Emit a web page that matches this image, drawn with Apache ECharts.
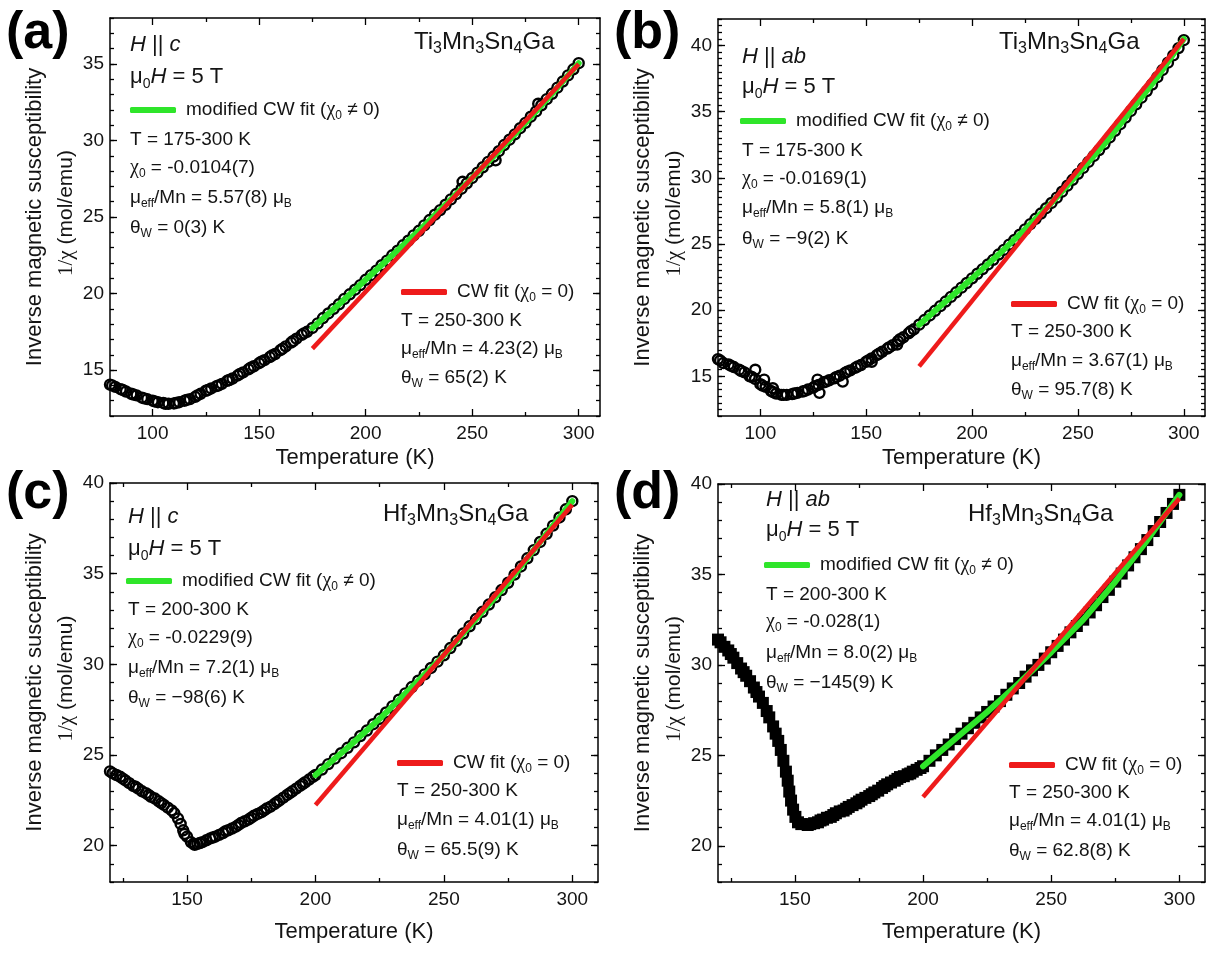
<!DOCTYPE html>
<html><head><meta charset="utf-8">
<script src="https://cdn.jsdelivr.net/npm/echarts@6/dist/echarts.min.js"></script>
<style>html,body{margin:0;padding:0;background:#fff}#c{width:1220px;height:953px}</style>
</head><body><div id="c"></div>
<script>
// ---------------- DATA ----------------
// Panel (a) Ti3Mn3Sn4Ga, H || c : [T (K), 1/chi (mol/emu)]
const dataA = [[80,14.05],[82.5,13.9],[85,13.75],[87.5,13.6],[90,13.45],[92.5,13.35],[95,13.2],[97.5,13.1],[100,13.0],[102.5,12.9],[105,12.85],[107.5,12.8],[110,12.82],[112.5,12.9],[115,13.0],[117.5,13.1],[120,13.25],[122.5,13.45],[125,13.65],[127.5,13.8],[130,13.95],[132.5,14.1],[135,14.3],[137.5,14.45],[140,14.65],[142.5,14.85],[145,15.05],[147.5,15.25],[150,15.45],[152.5,15.65],[155,15.85],[157.5,16.05],[160,16.3],[162.5,16.55],[165,16.8],[167.5,17.05],[170,17.3],[172.5,17.5],[175,17.75],[177.5,18.05],[180,18.4],[182.5,18.7],[185,19.0],[187.5,19.3],[190,19.65],[192.5,19.95],[195,20.25],[197.5,20.55],[200,20.9],[202.5,21.2],[205,21.5],[207.5,21.85],[210,22.15],[212.5,22.5],[215,22.8],[217.5,23.15],[220,23.45],[222.5,23.8],[225,24.1],[227.5,24.45],[230,24.8],[232.5,25.15],[235,25.45],[237.5,25.8],[240,26.15],[242.5,26.5],[245,26.85],[247.5,27.2],[250,27.55],[252.5,27.9],[255,28.25],[257.5,28.6],[260,28.95],[262.5,29.3],[265,29.7],[267.5,30.05],[270,30.4],[272.5,30.8],[275,31.15],[277.5,31.55],[280,31.9],[282.5,32.3],[285,32.7],[287.5,33.05],[290,33.45],[292.5,33.85],[295,34.25],[297.5,34.65],[300,35.05],
  [81,14.0],[86,13.7],[91,13.4],[96,13.15],[101,12.95],[106,12.8],[111,12.85],[116,13.05],[121,13.35],[126,13.7],[131,14.0],[136,14.35],[141,14.75],[146,15.15],[151,15.55],[156,15.95],[161,16.4],[166,16.9],[171,17.4],[245.5,27.3],[261,28.7],[281,32.4]];
const greenA = [[175,17.75],[187.5,19.3],[200,20.9],[212.5,22.5],[225,24.1],[237.5,25.8],[250,27.55],[262.5,29.3],[275,31.15],[287.5,33.05],[300,35.05]];
const redA = [[175,16.4],[300,35.0]];

// Panel (b) Ti3Mn3Sn4Ga, H || ab
const dataB = [[80,16.3],[82.5,16.0],[85,15.9],[87.5,15.7],[90,15.5],[92.5,15.3],[95,15.0],[97.5,14.8],[100,14.4],[102.5,14.2],[105,13.9],[107.5,13.7],[110,13.6],[112.5,13.6],[115,13.65],[117.5,13.75],[120,13.85],[122.5,14.0],[125,14.15],[127.5,14.35],[130,14.55],[132.5,14.7],[135,14.85],[137.5,15.05],[140,15.25],[142.5,15.45],[145,15.65],[147.5,15.85],[150,16.1],[152.5,16.35],[155,16.6],[157.5,16.85],[160,17.1],[162.5,17.35],[165,17.65],[167.5,17.95],[170,18.25],[172.5,18.55],[175,18.9],[177.5,19.25],[180,19.6],[182.5,19.95],[185,20.3],[187.5,20.65],[190,21.0],[192.5,21.35],[195,21.7],[197.5,22.05],[200,22.4],[202.5,22.75],[205,23.1],[207.5,23.45],[210,23.8],[212.5,24.2],[215,24.55],[217.5,24.95],[220,25.3],[222.5,25.7],[225,26.1],[227.5,26.5],[230,26.9],[232.5,27.3],[235,27.7],[237.5,28.1],[240,28.5],[242.5,28.95],[245,29.4],[247.5,29.85],[250,30.3],[252.5,30.75],[255,31.2],[257.5,31.65],[260,32.1],[262.5,32.55],[265,33.05],[267.5,33.55],[270,34.05],[272.5,34.55],[275,35.05],[277.5,35.55],[280,36.05],[282.5,36.55],[285,37.05],[287.5,37.6],[290,38.15],[292.5,38.7],[295,39.25],[297.5,39.8],[300,40.4],
  [97.6,15.5],[101.8,14.75],[105.9,14.1],[127,14.75],[127.9,13.75],[138.9,14.6],[152.6,16.1],[164.6,17.4],
  [81,16.2],[86,15.8],[91,15.4],[96,14.95],[101,14.3],[106,13.8],[111,13.6],[116,13.7],[121,13.9],[126,14.25],[131,14.6],[136,14.95],[141,15.35],[146,15.75],[151,16.2],[156,16.7],[161,17.2],[166,17.8],[171,18.4]];
const greenB = [[175,18.9],[187.5,20.65],[200,22.4],[212.5,24.2],[225,26.1],[237.5,28.1],[250,30.3],[262.5,32.55],[275,35.05],[287.5,37.6],[300,40.5]];
const redB = [[175,15.75],[300,40.5]];

// Panel (c) Hf3Mn3Sn4Ga, H || c
const dataC = [[120,24.1],[122.5,23.9],[125,23.7],[127.5,23.45],[130,23.25],[132.5,23.0],[135,22.8],[137.5,22.6],[140,22.35],[142.5,22.1],[145,21.8],[146.5,21.5],[147.5,21.2],[148.5,20.85],[150,20.5],[151.5,20.2],[152.5,20.1],[154,20.1],[155,20.15],[157.5,20.3],[160,20.45],[162.5,20.6],[165,20.8],[167.5,20.95],[170,21.15],[172.5,21.35],[175,21.55],[177.5,21.75],[180,21.95],[182.5,22.15],[185,22.4],[187.5,22.65],[190,22.9],[192.5,23.15],[195,23.4],[197.5,23.65],[200,23.9],[202.5,24.2],[205,24.5],[207.5,24.8],[210,25.1],[212.5,25.4],[215,25.7],[217.5,26.05],[220,26.35],[222.5,26.7],[225,27.0],[227.5,27.35],[230,27.7],[232.5,28.05],[235,28.4],[237.5,28.75],[240,29.1],[242.5,29.45],[245,29.8],[247.5,30.15],[250,30.5],[252.5,30.9],[255,31.3],[257.5,31.7],[260,32.1],[262.5,32.5],[265,32.9],[267.5,33.3],[270,33.7],[272.5,34.1],[275,34.5],[277.5,34.95],[280,35.4],[282.5,35.85],[285,36.3],[287.5,36.75],[290,37.2],[292.5,37.65],[295,38.1],[297.5,38.55],[300,39.0],
  [121,24.0],[124,23.8],[126,23.6],[129,23.3],[131,23.15],[134,22.9],[136,22.7],[139,22.45],[141,22.25],[144,21.95],[149,20.65],[153,20.05],[156,20.2],[159,20.4],[161,20.5],[164,20.7],[166,20.85],[169,21.05],[171,21.25],[174,21.45],[176,21.65],[179,21.85],[181,22.05],[184,22.3],[186,22.5],[189,22.8],[191,23.0],[194,23.3],[196,23.5],[199,23.8]];
const greenC = [[200,23.9],[212.5,25.4],[225,27.0],[237.5,28.75],[250,30.5],[262.5,32.5],[275,34.5],[287.5,36.75],[300,39.0]];
const redC = [[200,22.25],[300,38.8]];

// Panel (d) Hf3Mn3Sn4Ga, H || ab
const dataD = [[120,31.4],[122.5,31.0],[125,30.6],[127.5,30.1],[130,29.6],[132.5,29.1],[135,28.5],[137.5,27.9],[140,27.1],[141.5,26.6],[142.5,26.2],[143.5,25.8],[144.5,25.3],[145.5,24.7],[146.5,24.1],[147.2,23.6],[147.8,23.0],[148.5,22.5],[149.3,22.0],[150.2,21.6],[151.2,21.3],[152.5,21.2],[155,21.15],[157.5,21.25],[160,21.4],[162.5,21.55],[165,21.7],[167.5,21.9],[170,22.05],[172.5,22.25],[175,22.45],[177.5,22.65],[180,22.85],[182.5,23.05],[185,23.3],[187.5,23.5],[190,23.7],[192.5,23.85],[195,24.0],[197.5,24.2],[200,24.4],[202.5,24.7],[205,25.0],[207.5,25.3],[210,25.6],[212.5,25.9],[215,26.2],[217.5,26.5],[220,26.8],[222.5,27.1],[225,27.4],[227.5,27.7],[230,28.0],[232.5,28.35],[235,28.7],[237.5,29.0],[240,29.35],[242.5,29.7],[245,30.0],[247.5,30.35],[250,30.7],[252.5,31.05],[255,31.4],[257.5,31.8],[260,32.15],[262.5,32.5],[265,32.9],[267.5,33.3],[270,33.75],[272.5,34.15],[275,34.6],[277.5,35.05],[280,35.5],[282.5,35.95],[285,36.4],[287.5,36.9],[290,37.4],[292.5,37.9],[295,38.4],[297.5,38.9],[300,39.4],
  [121,31.25],[124,30.8],[126,30.4],[129,29.8],[131,29.4],[134,28.75],[136,28.25],[139,27.45],[156,21.2],[159,21.3],[161,21.45],[164,21.6],[166,21.8],[169,21.95],[171,22.15],[174,22.35],[176,22.55],[179,22.75],[181,22.95],[184,23.2],[186,23.4],[189,23.6],[191,23.8],[194,23.95],[196,24.1],[199,24.3]];
const greenD = [[200,24.4],[212.5,25.9],[225,27.4],[237.5,29.0],[250,30.7],[262.5,32.5],[275,34.6],[287.5,36.9],[300,39.4]];
const redD = [[200,22.7],[300,39.2]];

// Tick values
const xMajorAB = [100,150,200,250,300];
const xMajorCD = [150,200,250,300];
const xMinor = [125,175,225,275];
const yMajorA = [15,20,25,30,35];
const yMajorB = [15,20,25,30,35,40];
const yMajorCD = [20,25,30,35,40];

// Texts
const GREEN = 'modified CW fit (χ0 ≠ 0)';
const RED = 'CW fit (χ0 = 0)';
const xTitle = 'Temperature (K)';
const yTitle1 = 'Inverse magnetic susceptibility';
const yTitle2 = '1/χ (mol/emu)';

// ---------------- LAYOUT / STYLE ----------------
const F = '"Liberation Sans", Arial, sans-serif';
const FS = '"Liberation Serif", "Times New Roman", serif';
const INK = '#141414';
const GREEN_C = '#2fe52a';
const RED_C = '#ee1b1b';

const R = {
  t: {fontFamily: F, fontSize: 19, lineHeight: 24, color: INK},
  s: {fontFamily: F, fontSize: 12, lineHeight: 12, verticalAlign: 'bottom', color: INK},
  g: {fontFamily: FS, fontSize: 20, lineHeight: 24, color: INK},
  T: {fontFamily: F, fontSize: 22, lineHeight: 28, color: INK},
  I: {fontFamily: F, fontSize: 22, fontStyle: 'italic', lineHeight: 28, color: INK},
  S: {fontFamily: F, fontSize: 14, lineHeight: 14, verticalAlign: 'bottom', color: INK},
  C: {fontFamily: F, fontSize: 24, lineHeight: 30, color: INK},
  CS: {fontFamily: F, fontSize: 16, lineHeight: 15, verticalAlign: 'bottom', color: INK},
  Y: {fontFamily: FS, fontSize: 21, lineHeight: 26, color: INK},
  Yt: {fontFamily: F, fontSize: 21, lineHeight: 26, color: INK}
};

const panels = [
  {grid:{left:110, top:18, width:490, height:398}, x:[80,310], y:[12,38], xMaj:xMajorAB, yMaj:yMajorA, yStep:1,
   data:dataA, green:greenA, red:redA, sym:'circle', nameGap:31},
  {grid:{left:718, top:19, width:487, height:397}, x:[80,310], y:[12,42], xMaj:xMajorAB, yMaj:yMajorB, yStep:0.5,
   data:dataB, green:greenB, red:redB, sym:'circle', nameGap:31},
  {grid:{left:110, top:483, width:488, height:399}, x:[120,310], y:[18,40], xMaj:xMajorCD, yMaj:yMajorCD, yStep:1,
   data:dataC, green:greenC, red:redC, sym:'circle', nameGap:39},
  {grid:{left:718, top:484, width:487, height:398}, x:[120,310], y:[18,40], xMaj:xMajorCD, yMaj:yMajorCD, yStep:1,
   data:dataD, green:greenD, red:redD, sym:'rect', nameGap:39}
];

const grids = [], xAxes = [], yAxes = [], series = [];
const lineS = {color: '#000', width: 1.5};
const tickS = {color: '#000', width: 1.3};

panels.forEach((p, gi) => {
  grids.push(Object.assign({containLabel: false}, p.grid));
  const base = {gridIndex: gi, type: 'value', min: p.x[0], max: p.x[1], splitLine: {show: false}};
  xAxes.push(Object.assign({}, base, {
    position: 'bottom',
    axisLine: {show: true, onZero: false, lineStyle: lineS},
    axisTick: {show: true, inside: true, length: 7, customValues: p.xMaj, lineStyle: tickS},
    axisLabel: {show: true, customValues: p.xMaj, fontSize: 19, fontFamily: F, color: INK, margin: 8},
    name: xTitle, nameLocation: 'middle', nameGap: p.nameGap,
    nameTextStyle: {fontSize: 22, fontFamily: F, color: INK}
  }));
  xAxes.push(Object.assign({}, base, {
    position: 'bottom', axisLine: {show: false, onZero: false},
    axisTick: {show: true, inside: true, length: 4, customValues: xMinor, lineStyle: tickS},
    axisLabel: {show: false}
  }));
  xAxes.push(Object.assign({}, base, {
    position: 'top', axisLine: {show: true, onZero: false, lineStyle: lineS},
    axisTick: {show: true, inside: true, length: 7, customValues: p.xMaj, lineStyle: tickS},
    axisLabel: {show: false}
  }));
  xAxes.push(Object.assign({}, base, {
    position: 'top', axisLine: {show: false, onZero: false},
    axisTick: {show: true, inside: true, length: 4, customValues: xMinor, lineStyle: tickS},
    axisLabel: {show: false}
  }));

  const ybase = {gridIndex: gi, type: 'value', min: p.y[0], max: p.y[1], splitLine: {show: false}};
  yAxes.push(Object.assign({}, ybase, {
    position: 'left',
    axisLine: {show: true, onZero: false, lineStyle: lineS},
    axisTick: {show: true, inside: true, length: 7, customValues: p.yMaj, lineStyle: tickS},
    axisLabel: {show: true, customValues: p.yMaj, fontSize: 19, fontFamily: F, color: INK, margin: 6}
  }));
  yAxes.push(Object.assign({}, ybase, {
    position: 'left', interval: p.yStep, axisLine: {show: false, onZero: false},
    axisTick: {show: true, inside: true, length: 4, lineStyle: tickS},
    axisLabel: {show: false}
  }));
  yAxes.push(Object.assign({}, ybase, {
    position: 'right',
    axisLine: {show: true, onZero: false, lineStyle: lineS},
    axisTick: {show: true, inside: true, length: 7, customValues: p.yMaj, lineStyle: tickS},
    axisLabel: {show: false}
  }));
  yAxes.push(Object.assign({}, ybase, {
    position: 'right', interval: p.yStep, axisLine: {show: false, onZero: false},
    axisTick: {show: true, inside: true, length: 4, lineStyle: tickS},
    axisLabel: {show: false}
  }));

  const xi = gi * 4, yi = gi * 4;
  series.push({
    type: 'scatter', name: 'data' + gi, xAxisIndex: xi, yAxisIndex: yi, data: p.data,
    symbol: p.sym, symbolSize: p.sym === 'rect' ? 12 : 10, silent: true, z: 2,
    itemStyle: p.sym === 'rect'
      ? {color: '#000', borderWidth: 0, opacity: 1}
      : {color: 'rgba(255,255,255,0)', borderColor: '#000', borderWidth: 2.4, opacity: 1}
  });
  series.push({
    type: 'line', name: GREEN, xAxisIndex: xi, yAxisIndex: yi, data: p.green,
    showSymbol: false, smooth: false, silent: true, z: 3,
    lineStyle: {color: GREEN_C, width: 6, cap: 'round'}, itemStyle: {color: GREEN_C}
  });
  series.push({
    type: 'line', name: RED, xAxisIndex: xi, yAxisIndex: yi, data: p.red,
    showSymbol: false, silent: true, z: 4,
    lineStyle: {color: RED_C, width: 4.5}, itemStyle: {color: RED_C}
  });
});

function legendAt(name, left, cy) {
  const col = name === GREEN ? GREEN_C : RED_C;
  return {
    left: left, top: cy - 12, padding: 0, itemWidth: 46, itemHeight: 6, selectedMode: false,
    data: [{name: name, icon: 'roundRect', itemStyle: {color: col, borderWidth: 0}}],
    formatter: n => n === GREEN ? '{t|modified CW fit (}{g|χ}{s|0}{t| ≠ 0)}' : '{t|CW fit (}{g|χ}{s|0}{t| = 0)}',
    textStyle: {fontSize: 19, fontFamily: F, color: INK, rich: R, padding: [0, 0, 0, 5]}
  };
}
const legends = [
  legendAt(GREEN, 130, 112), legendAt(RED, 401, 294),
  legendAt(GREEN, 740, 123), legendAt(RED, 1011, 306),
  legendAt(GREEN, 126, 583), legendAt(RED, 397, 765),
  legendAt(GREEN, 764, 567), legendAt(RED, 1009, 767)
];

function txt(x, cy, text, lh) {
  return {type: 'text', left: x, top: cy - lh / 2, z: 100, style: {text: text, rich: R, fill: INK, font: '19px ' + F}};
}
const hc = '{I|H}{T| || }{I|c}', hab = '{I|H}{T| || }{I|ab}', mu0 = '{T|μ}{S|0}{I|H}{T| = 5 T}';
const ti = '{C|Ti}{CS|3}{C|Mn}{CS|3}{C|Sn}{CS|4}{C|Ga}', hf = '{C|Hf}{CS|3}{C|Mn}{CS|3}{C|Sn}{CS|4}{C|Ga}';
const chi = v => '{g|χ}{s|0}{t| = ' + v + '}';
const mu = v => '{t|μ}{s|eff}{t|/Mn = ' + v + ' μ}{s|B}';
const th = v => '{t|θ}{s|W}{t| = ' + v + ' K}';
const tr = v => '{t|T = ' + v + ' K}';

const graphics = [
  // (a)
  txt(130, 48, hc, 28), txt(130, 80, mu0, 28), txt(414, 45, ti, 30),
  txt(130, 142, tr('175-300'), 24), txt(130, 170, chi('-0.0104(7)'), 24), txt(130, 200, mu('5.57(8)'), 24), txt(130, 230, th('0(3)'), 24),
  txt(401, 323, tr('250-300'), 24), txt(401, 351, mu('4.23(2)'), 24), txt(401, 380, th('65(2)'), 24),
  // (b)
  txt(742, 60, hab, 28), txt(742, 90, mu0, 28), txt(999, 45, ti, 30),
  txt(742, 153, tr('175-300'), 24), txt(742, 181, chi('-0.0169(1)'), 24), txt(742, 210, mu('5.8(1)'), 24), txt(742, 241, th('−9(2)'), 24),
  txt(1011, 334, tr('250-300'), 24), txt(1011, 363, mu('3.67(1)'), 24), txt(1011, 392, th('95.7(8)'), 24),
  // (c)
  txt(128, 520, hc, 28), txt(128, 552, mu0, 28), txt(383, 517, hf, 30),
  txt(128, 612, tr('200-300'), 24), txt(128, 640, chi('-0.0229(9)'), 24), txt(128, 670, mu('7.2(1)'), 24), txt(128, 700, th('−98(6)'), 24),
  txt(397, 793, tr('250-300'), 24), txt(397, 822, mu('4.01(1)'), 24), txt(397, 852, th('65.5(9)'), 24),
  // (d)
  txt(766, 503, hab, 28), txt(766, 533, mu0, 28), txt(968, 517, hf, 30),
  txt(766, 597, tr('200-300'), 24), txt(766, 624, chi('-0.028(1)'), 24), txt(766, 655, mu('8.0(2)'), 24), txt(766, 685, th('−145(9)'), 24),
  txt(1009, 795, tr('250-300'), 24), txt(1009, 823, mu('4.01(1)'), 24), txt(1009, 853, th('62.8(8)'), 24)
];

// panel letters
[['(a)', 6, 8], ['(b)', 614, 8], ['(c)', 6, 468], ['(d)', 614, 468]].forEach(([s, x, y]) => {
  graphics.push({type: 'text', left: x, top: y, z: 100, style: {text: s, font: 'bold 52px ' + F, fill: '#000'}});
});

// rotated y-axis titles
panels.forEach(p => {
  const cy = p.grid.top + p.grid.height / 2;
  const x0 = p.grid.left - 75;
  graphics.push({type: 'text', x: x0, y: cy, rotation: Math.PI / 2, z: 100,
    style: {text: yTitle1, font: '22px ' + F, fill: INK, textAlign: 'center', textVerticalAlign: 'middle'}});
  graphics.push({type: 'text', x: x0 + 31, y: cy - 4, rotation: Math.PI / 2, z: 100,
    style: {text: '{Y|1/χ}{Yt| (mol/emu)}', rich: R, fill: INK, textAlign: 'center', textVerticalAlign: 'middle'}});
});

const chart = echarts.init(document.getElementById('c'), null, {renderer: 'canvas', width: 1220, height: 953});
chart.setOption({
  backgroundColor: '#fff',
  animation: false,
  grid: grids,
  xAxis: xAxes,
  yAxis: yAxes,
  legend: legends,
  series: series,
  graphic: graphics
});
</script>
</body></html>
